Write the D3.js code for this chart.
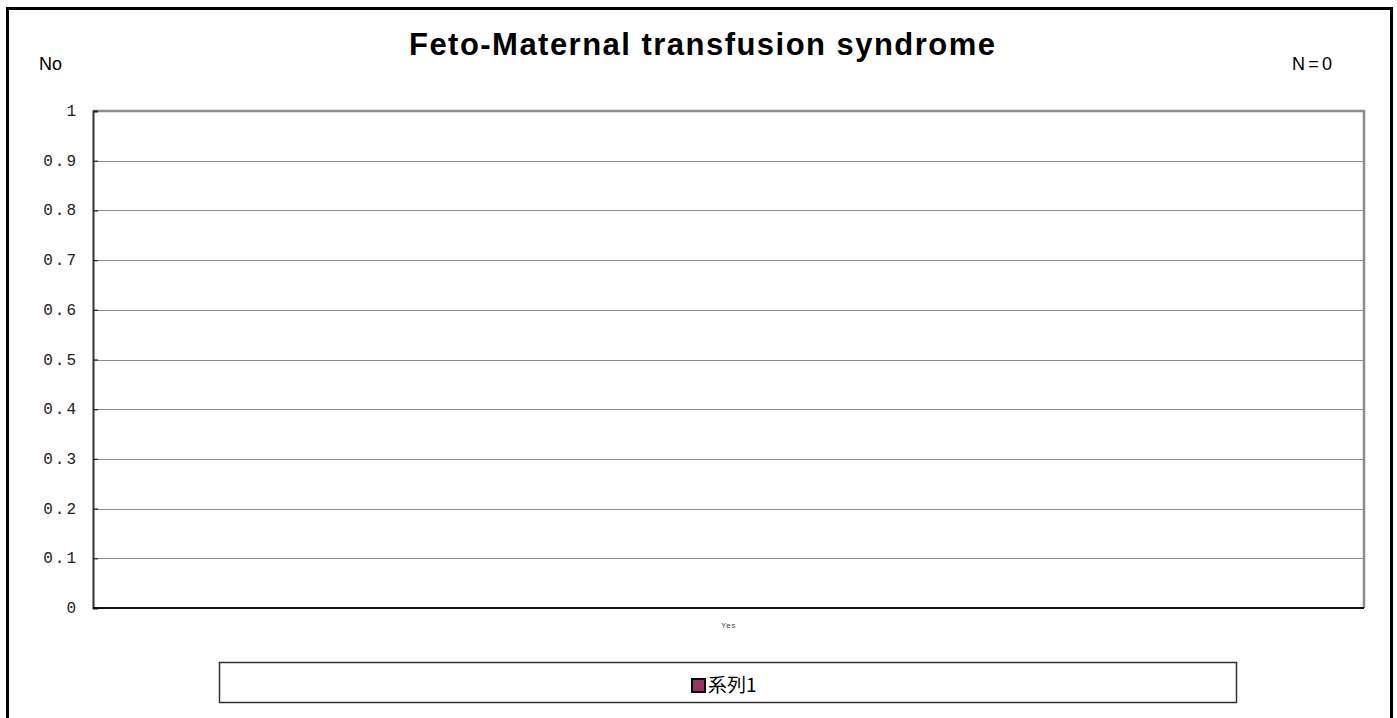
<!DOCTYPE html>
<html>
<head>
<meta charset="utf-8">
<script src="https://cdn.jsdelivr.net/npm/d3@7"></script>
<style>
  body { margin: 0; background: #fff; }
</style>
</head>
<body>
<div id="chart"></div>
<script>
const WIDTH = 1397;
const HEIGHT = 718;
const PLOT = { left: 93, top: 111, right: 1364, bottom: 608 };

const titleText = "Feto-Maternal transfusion syndrome";
const categories = ["Yes"];
const seriesName = "系列1";
const seriesValues = [0];
const yTicks = [0, 0.1, 0.2, 0.3, 0.4, 0.5, 0.6, 0.7, 0.8, 0.9, 1];

const svg = d3.select("#chart").append("svg")
  .attr("width", WIDTH)
  .attr("height", HEIGHT);

svg.append("rect")
  .attr("width", "100%")
  .attr("height", "100%")
  .attr("fill", "#fff");

// outer frame (bottom runs past the window)
svg.append("rect")
  .attr("x", 7.5).attr("y", 8.5)
  .attr("width", 1384).attr("height", 730)
  .attr("fill", "none")
  .attr("stroke", "#000")
  .attr("stroke-width", 3);

svg.append("text")
  .attr("x", 409).attr("y", 55)
  .attr("font-family", "Liberation Sans, Arial, sans-serif")
  .attr("font-weight", "bold")
  .attr("font-size", 31)
  .attr("textLength", 586)
  .attr("lengthAdjust", "spacing")
  .text(titleText);

svg.append("text")
  .attr("x", 39).attr("y", 70)
  .attr("font-family", "Liberation Sans, Arial, sans-serif")
  .attr("font-size", 18)
  .text("No");

svg.append("text")
  .attr("x", 1292).attr("y", 70)
  .attr("font-family", "Liberation Sans, Arial, sans-serif")
  .attr("font-size", 18)
  .attr("textLength", 40)
  .attr("lengthAdjust", "spacing")
  .text("N=0");

const x = d3.scaleBand()
  .domain(categories)
  .range([PLOT.left, PLOT.right])
  .padding(0.5);

const y = d3.scaleLinear()
  .domain([0, 1])
  .range([PLOT.bottom, PLOT.top]);

// gridlines
svg.append("g")
  .selectAll("line")
  .data(yTicks.filter(d => d > 0 && d < 1))
  .enter()
  .append("line")
  .attr("x1", PLOT.left).attr("x2", PLOT.right)
  .attr("y1", d => Math.round(y(d)) + 0.5)
  .attr("y2", d => Math.round(y(d)) + 0.5)
  .attr("stroke", "#8c8c8c")
  .attr("stroke-width", 1);

// plot frame top/right
svg.append("path")
  .attr("d", `M${PLOT.left},${PLOT.top} H${PLOT.right} V${PLOT.bottom}`)
  .attr("fill", "none")
  .attr("stroke", "#8c8c8c")
  .attr("stroke-width", 2.5);

// bars
svg.append("g")
  .selectAll("rect")
  .data(seriesValues)
  .enter()
  .append("rect")
  .attr("x", (d, i) => x(categories[i]))
  .attr("y", d => y(d))
  .attr("width", x.bandwidth())
  .attr("height", d => PLOT.bottom - y(d))
  .attr("fill", "#993366")
  .attr("stroke", "#000");

// y axis
const yAxis = svg.append("g")
  .attr("transform", `translate(${PLOT.left},0)`)
  .call(d3.axisRight(y).tickValues(yTicks).tickSize(5).tickFormat(""));
yAxis.select(".domain").attr("stroke", "#333").attr("stroke-width", 2);
yAxis.selectAll(".tick line").attr("stroke", "#222").attr("stroke-width", 1.2);

svg.append("g")
  .selectAll("text")
  .data(yTicks)
  .enter()
  .append("text")
  .attr("x", 78)
  .attr("y", d => y(d) + 5)
  .attr("text-anchor", "end")
  .attr("font-family", "Liberation Mono, Courier New, monospace")
  .attr("font-size", 16)
  .attr("letter-spacing", 2)
  .attr("fill", "#222")
  .text(d => d3.format("~g")(d));

// x axis
const xAxis = svg.append("g")
  .attr("transform", `translate(0,${PLOT.bottom})`)
  .call(d3.axisBottom(x).tickSize(0).tickPadding(14));
xAxis.select(".domain")
  .attr("d", `M${PLOT.left},0H${PLOT.right}`)
  .attr("stroke", "#111")
  .attr("stroke-width", 2);
xAxis.selectAll(".tick text")
  .attr("font-family", "Liberation Mono, Courier New, monospace")
  .attr("font-size", 8)
  .attr("fill", "#444");

// legend
const legend = svg.append("g");
legend.append("rect")
  .attr("x", 219.5).attr("y", 662.5)
  .attr("width", 1017).attr("height", 40)
  .attr("fill", "#fff")
  .attr("stroke", "#333")
  .attr("stroke-width", 1.5);
legend.append("rect")
  .attr("x", 692).attr("y", 679)
  .attr("width", 13).attr("height", 13)
  .attr("fill", "#993366")
  .attr("stroke", "#000")
  .attr("stroke-width", 2);
legend.append("text")
  .attr("x", 708).attr("y", 692)
  .attr("font-family", "Noto Sans CJK JP, sans-serif")
  .attr("font-size", 19)
  .text(seriesName);
</script>
</body>
</html>
